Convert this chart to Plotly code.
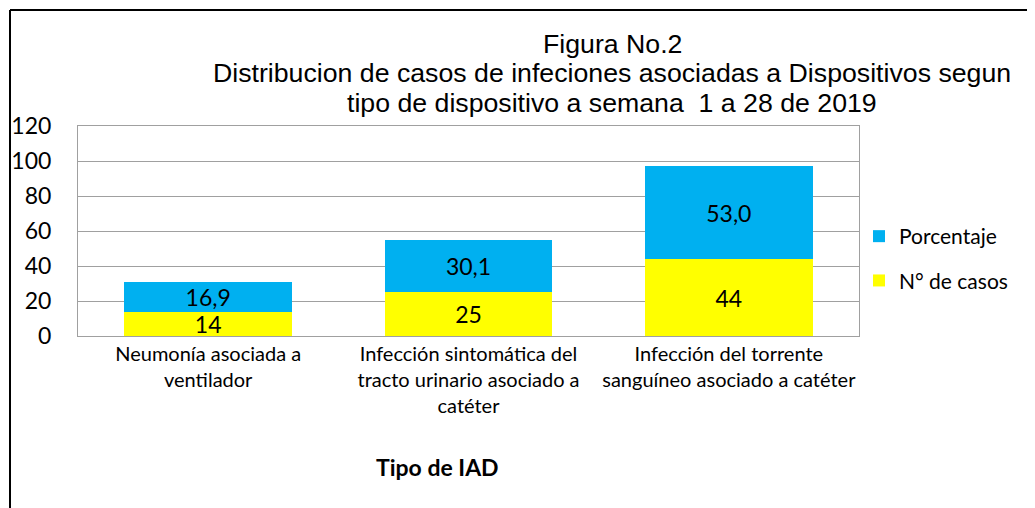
import plotly.graph_objects as go

categories = [
    "Neumonía asociada a<br>ventilador",
    "Infección sintomática del<br>tracto urinario asociado a<br>catéter",
    "Infección del torrente<br>sanguíneo asociado a catéter",
]
n_casos = [14, 25, 44]
porcentaje = [16.9, 30.1, 53.0]
y_ticks = [0, 20, 40, 60, 80, 100, 120]

# page body has an 8px margin; work in screenshot coordinates and shift
OFF = 8
W, H = 1035 - OFF, 508 - OFF
L, R, T, B = 78 - OFF, 1035 - 859, 126 - OFF, 508 - 336
pw, ph = W - L - R, H - T - B

def px(x):
    return (x - OFF - L) / pw

def py(y):
    return (H - B - (y - OFF)) / ph

font_main = "Lato, Open Sans, sans-serif"

fig = go.Figure()
fig.add_trace(go.Bar(
    x=categories, y=n_casos, name="N° de casos",
    marker=dict(color="#FFFF00", line=dict(width=0)),
    text=[str(v) for v in n_casos], textposition="inside",
    insidetextanchor="middle", textangle=0, constraintext="none",
    textfont=dict(size=23, color="black", family=font_main),
    legendgroup="a", legendrank=2,
))
fig.add_trace(go.Bar(
    x=categories, y=porcentaje, name="Porcentaje",
    marker=dict(color="#00B0F0", line=dict(width=0)),
    text=[f"{v:.1f}".replace(".", ",") for v in porcentaje], textposition="inside",
    insidetextanchor="middle", textangle=0, constraintext="none",
    textfont=dict(size=23, color="black", family=font_main),
    legendgroup="b", legendrank=1,
))

fig.update_layout(
    width=W, height=H,
    margin=dict(l=L, r=R, t=T, b=B, pad=0, autoexpand=False),
    barmode="stack", bargap=0.357,
    paper_bgcolor="white", plot_bgcolor="white",
    font=dict(family=font_main, color="black"),
    showlegend=True,
    legend=dict(
        x=px(859), y=py(216), xanchor="left", yanchor="top",
        traceorder="grouped", tracegroupgap=14,
        font=dict(size=21, family=font_main, color="black"),
        itemwidth=30, bgcolor="rgba(0,0,0,0)",
    ),
    xaxis=dict(
        showgrid=False, showline=True, linecolor="#A0A0A0", linewidth=1,
        mirror=True, ticks="", tickfont=dict(size=20, family=font_main),
        fixedrange=True, automargin=False,
    ),
    yaxis=dict(
        range=[0, 120], tickvals=y_ticks, showgrid=True, gridcolor="#A0A0A0",
        gridwidth=1, showline=True, linecolor="#A0A0A0", linewidth=1, mirror=True,
        ticks="outside", ticklen=21, tickcolor="rgba(0,0,0,0)",
        tickfont=dict(size=23, family=font_main), zeroline=False, automargin=False,
    ),
)

title_lines = [
    ("Figura No.2", 44),
    ("Distribucion de casos de infeciones asociadas a Dispositivos segun", 73),
    ("tipo de dispositivo a semana  1 a 28 de 2019", 103),
]
for txt, yy in title_lines:
    fig.add_annotation(
        text=txt, xref="paper", yref="paper", x=px(612), y=py(yy),
        xanchor="center", yanchor="middle", showarrow=False,
        font=dict(size=26.7, family="Liberation Sans, Arial, sans-serif", color="black"),
    )

fig.add_annotation(
    text="<b>Tipo de IAD</b>", xref="paper", yref="paper", x=px(437), y=py(467),
    xanchor="center", yanchor="middle", showarrow=False,
    font=dict(size=23, family=font_main, color="black"),
)

# outer frame
fig.add_shape(type="line", xref="paper", yref="paper",
              x0=px(10), y0=py(10), x1=px(1040), y1=py(10),
              line=dict(color="black", width=2))
fig.add_shape(type="line", xref="paper", yref="paper",
              x0=px(10), y0=py(10), x1=px(10), y1=py(520),
              line=dict(color="black", width=2))

fig.write_html("out.html")
